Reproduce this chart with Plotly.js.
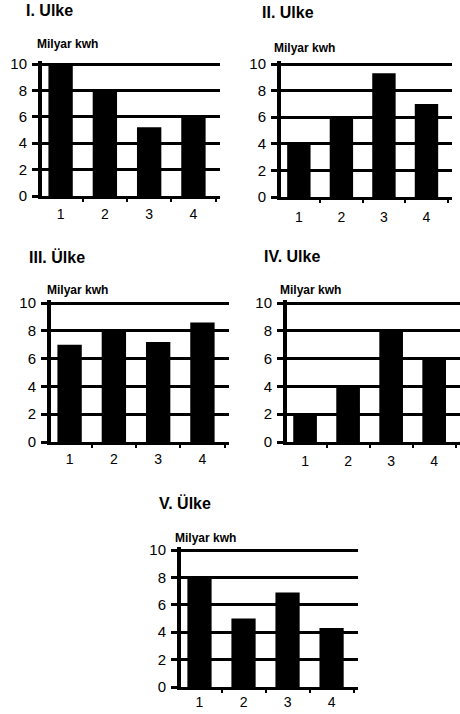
<!DOCTYPE html>
<html>
<head>
<meta charset="utf-8">
<script src="https://cdn.plot.ly/plotly-3.0.1.min.js"></script>
<style>html,body{margin:0;padding:0;background:#fff;}#chart{width:460px;height:714px;}</style>
</head>
<body>
<div id="chart"></div>
<script>
// ---- data ----
const categories = [1, 2, 3, 4];
const titles = ['I. Ulke', 'II. Ulke', 'III. Ülke', 'IV. Ulke', 'V. Ülke'];
const unitLabel = 'Milyar kwh';
const values1 = [10, 8, 5.2, 6];
const values2 = [4, 6, 9.3, 7];
const values3 = [7, 8, 7.2, 8.6];
const values4 = [2, 4, 8, 6];
const values5 = [8, 5, 6.9, 4.3];
const yTicks = [0, 2, 4, 6, 8, 10];

// ---- layout helpers (pixel boxes: y10 = pixel of value 10, y0 = pixel of value 0) ----
const W = 460, H = 714;
const YMAX = 10.2;
const series = [values1, values2, values3, values4, values5];
const boxes = [
  {x0: 42, x1: 220, y10: 64, y0: 196, tx: 24, ty: 11, ux: 35, uy: 44, so: 3},
  {x0: 281, x1: 452, y10: 64, y0: 197, tx: 260, ty: 12, ux: 272, uy: 48, so: 5},
  {x0: 51, x1: 229, y10: 303, y0: 442, tx: 27, ty: 257, ux: 45, uy: 290, so: 2},
  {x0: 287, x1: 460, y10: 303, y0: 442, tx: 262, ty: 256, ux: 278, uy: 290, so: 4},
  {x0: 181, x1: 358, y10: 550, y0: 687, tx: 157, ty: 503, ux: 173, uy: 538, so: 0}
];

const font = 'Liberation Sans, Arial, sans-serif';
const traces = [];
const layout = {
  width: W, height: H,
  margin: {l: 0, r: 0, t: 0, b: 0},
  paper_bgcolor: '#fff', plot_bgcolor: '#fff',
  showlegend: false,
  font: {family: font, color: '#000'},
  annotations: []
};

series.forEach((vals, i) => {
  const n = i === 0 ? '' : String(i + 1);
  const b = boxes[i];
  const pxPerUnit = (b.y0 - b.y10) / 10;
  const yTopPx = b.y0 - YMAX * pxPerUnit;
  traces.push({
    type: 'bar', x: categories, y: vals,
    xaxis: 'x' + n, yaxis: 'y' + n,
    width: 0.55,
    marker: {color: '#000', line: {width: 0}},
    hoverinfo: 'none'
  });
  layout['xaxis' + n] = {
    domain: [b.x0 / W, b.x1 / W],
    anchor: 'y' + n,
    range: [0.58, 4.6],
    tickmode: 'array', tickvals: categories, ticktext: categories.map(String),
    ticks: '', ticklabelstandoff: b.so, showgrid: false, zeroline: false,
    showline: true, linecolor: '#000', linewidth: 3,
    tickfont: {family: font, size: 14, color: '#000'},
    minor: {tickmode: 'array', tickvals: [1.5, 2.5, 3.5, 4.5], ticks: 'outside', ticklen: 3, tickwidth: 2, tickcolor: '#000', showgrid: false},
    fixedrange: true
  };
  layout['yaxis' + n] = {
    domain: [1 - b.y0 / H, 1 - yTopPx / H],
    anchor: 'x' + n,
    range: [0, YMAX],
    tickmode: 'array', tickvals: yTicks,
    ticks: 'outside', ticklen: 6, tickwidth: 3, tickcolor: '#000',
    ticklabelstandoff: 2,
    showgrid: true, gridcolor: '#000', gridwidth: 3,
    zeroline: false,
    showline: true, linecolor: '#000', linewidth: 4,
    tickfont: {family: font, size: 15, color: '#000'},
    fixedrange: true
  };
  layout.annotations.push({
    text: titles[i], xref: 'paper', yref: 'paper',
    x: b.tx / W, y: 1 - b.ty / H, xanchor: 'left', yanchor: 'middle',
    showarrow: false, font: {family: font, size: 16, color: '#000', weight: 'bold'}
  });
  layout.annotations.push({
    text: unitLabel, xref: 'paper', yref: 'paper',
    x: b.ux / W, y: 1 - b.uy / H, xanchor: 'left', yanchor: 'middle',
    showarrow: false, font: {family: font, size: 12, color: '#000', weight: 'bold'}
  });
});

Plotly.newPlot('chart', traces, layout, {staticPlot: true, displayModeBar: false});
</script>
</body>
</html>
